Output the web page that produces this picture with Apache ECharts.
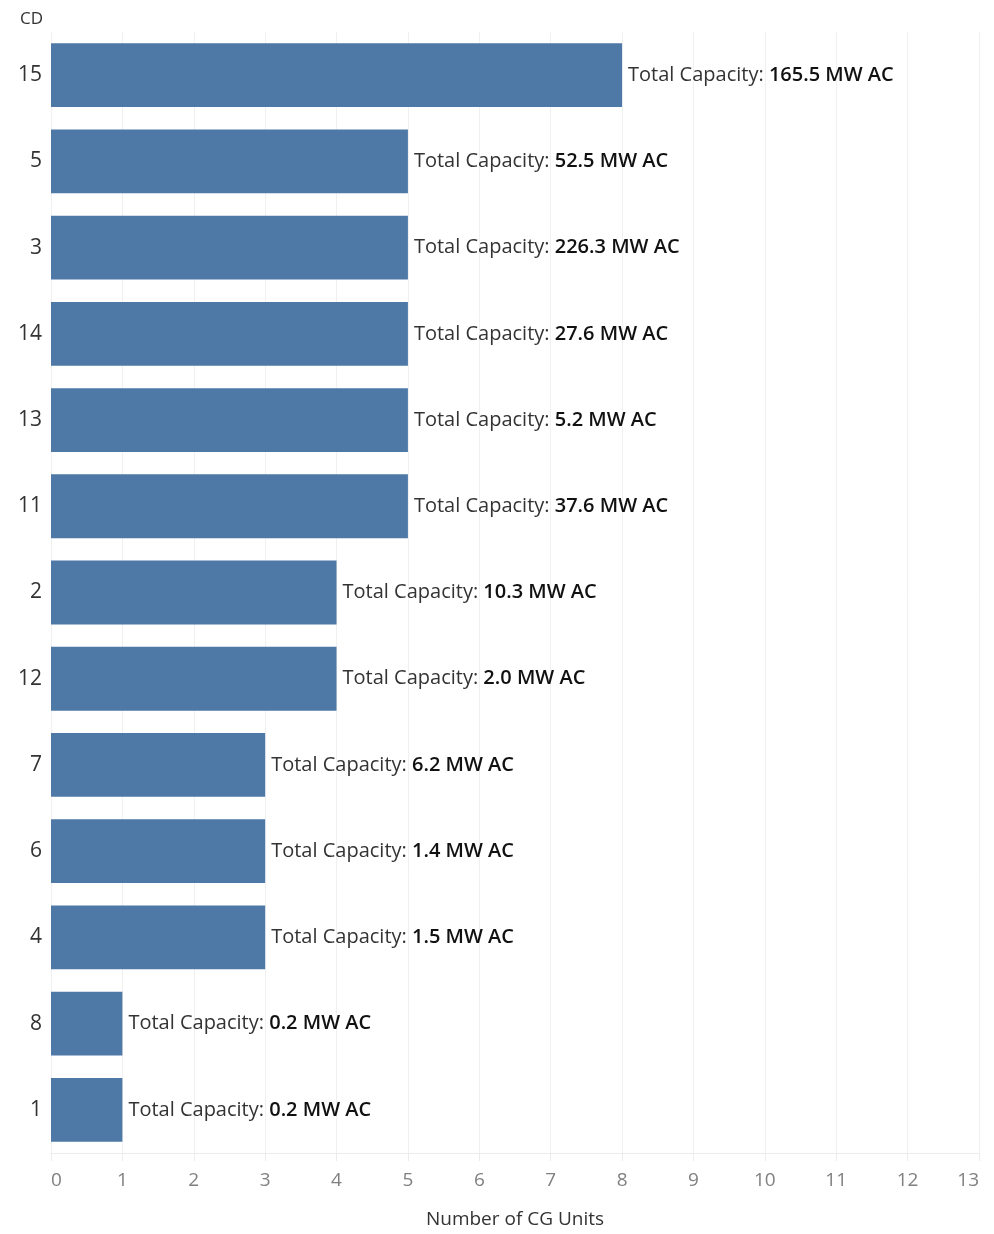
<!DOCTYPE html>
<html>
<head>
<meta charset="utf-8">
<script src="https://cdn.jsdelivr.net/npm/echarts@6/dist/echarts.min.js"></script>
<style>
  html, body { margin: 0; padding: 0; background: #fff; }
  #chart { width: 994px; height: 1234px; }
</style>
</head>
<body>
<div id="chart"></div>
<script>
// districts, top to bottom as drawn
const districts = ["15", "5", "3", "14", "13", "11", "2", "12", "7", "6", "4", "8", "1"];
const units = [8, 5, 5, 5, 5, 5, 4, 4, 3, 3, 3, 1, 1];
const capacityMW = ["165.5", "52.5", "226.3", "27.6", "5.2", "37.6", "10.3", "2.0", "6.2", "1.4", "1.5", "0.2", "0.2"];

const font = "Open Sans";
const chart = echarts.init(document.getElementById("chart"));

chart.setOption({
  animation: false,
  textStyle: { fontFamily: font },
  grid: { left: 51, right: 15, top: 32, bottom: 79, containLabel: false },
  title: {
    text: "CD",
    left: 15,
    top: 6,
    textStyle: { fontFamily: font, fontSize: 17, fontWeight: "normal", color: "#333" }
  },
  xAxis: {
    type: "value",
    min: 0,
    max: 13,
    interval: 1,
    name: "Number of CG Units",
    nameLocation: "middle",
    nameGap: 57,
    nameTextStyle: { fontFamily: font, fontSize: 19, color: "#333" },
    axisLine: { show: true, lineStyle: { color: "#ececec", width: 1 } },
    axisTick: { show: true, length: 8, lineStyle: { color: "#ececec" } },
    axisLabel: {
      fontFamily: font, fontSize: 19, color: "#808080", margin: 18,
      alignMinLabel: "left", alignMaxLabel: "right"
    },
    splitLine: { show: true, lineStyle: { color: "#f0f0f0", width: 1 } }
  },
  yAxis: {
    type: "category",
    inverse: true,
    data: districts,
    axisLine: { show: false },
    axisTick: { show: false },
    axisLabel: { fontFamily: font, fontSize: 21, color: "#333", margin: 9 }
  },
  series: [{
    type: "bar",
    data: units,
    barCategoryGap: "26%",
    itemStyle: { color: "#4e79a7" },
    label: {
      show: true,
      position: "right",
      distance: 6,
      formatter: (p) => "{a|Total Capacity: }{b|" + capacityMW[p.dataIndex] + " MW AC}",
      rich: {
        a: { fontFamily: font, fontSize: 20, color: "#333" },
        b: { fontFamily: font, fontSize: 20, color: "#111", fontWeight: 600 }
      }
    }
  }]
});
</script>
</body>
</html>
